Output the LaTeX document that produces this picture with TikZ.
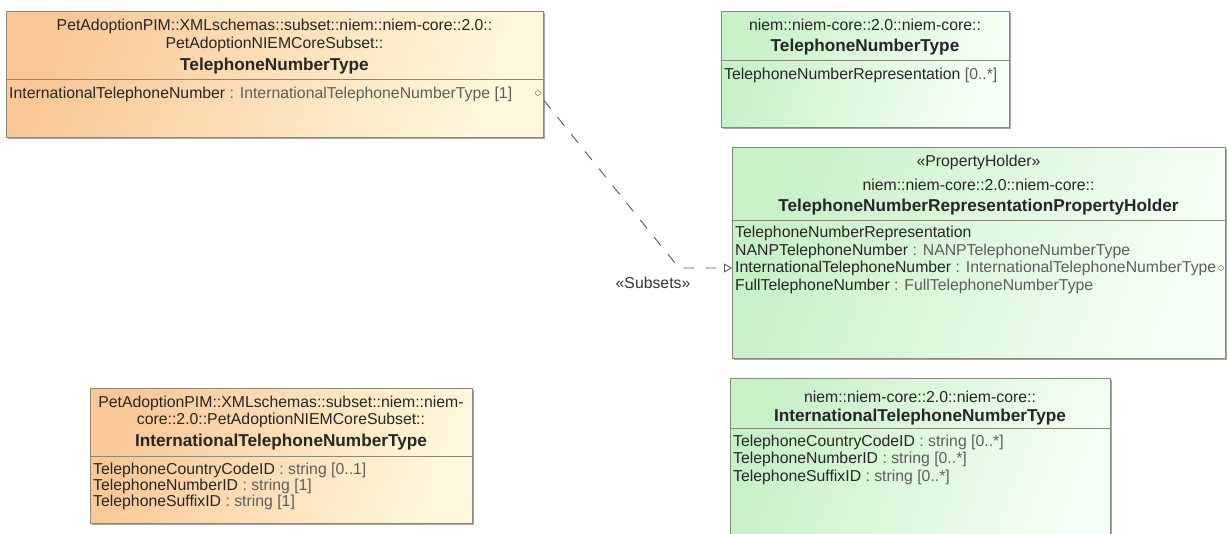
\documentclass[tikz,border=0pt]{standalone}
\usepackage{fontspec}
\setmainfont{Liberation Sans}
\usetikzlibrary{arrows.meta,positioning,shadows}
\definecolor{pimorange}{HTML}{F9C896}
\definecolor{pimcream}{HTML}{FFF8DC}
\definecolor{niemgreen}{HTML}{C8F1C8}
\definecolor{niemwhite}{HTML}{F6FFF6}
\definecolor{boxline}{HTML}{8A8A7A}
\definecolor{typegray}{HTML}{5E5E5E}
\newcommand{\ty}[1]{\textcolor{typegray}{#1}}

\begin{document}
\begin{tikzpicture}[x=1pt,y=-1pt,>=Latex,
    font=\fontsize{15.8}{18}\selectfont,
    cls/.style={draw=boxline,line width=0.8pt,anchor=north west,inner sep=0pt,
      drop shadow={shadow xshift=2pt,shadow yshift=-2pt,fill=black!35,opacity=1}},
    pim/.style={cls,left color=pimorange,right color=pimcream,shading angle=70},
    niem/.style={cls,left color=niemgreen,right color=niemwhite,shading angle=70},
    hdr/.style={inner sep=0pt,text=black!85},
    ttl/.style={hdr,font=\fontsize{17.2}{20}\selectfont\bfseries},
    attr/.style={anchor=west,inner xsep=3pt,inner ysep=0pt,text=black!85},
    portmark/.style={circle,draw=typegray,inner sep=0pt,minimum size=5pt},
    subsets/.style={draw=black!65,line width=0.9pt,dash pattern=on 11pt off 11pt,
      -{Triangle[open,length=8pt,width=9pt]}}]
  \useasboundingbox (0,0) rectangle (1228,533);

  % PetAdoption subset: TelephoneNumberType
  \node[pim,minimum width=537pt,minimum height=126pt] (pimTel) at (6,11) {};
  \node[hdr] (pimTelPkg) at (274.5,26) {PetAdoptionPIM::XMLschemas::subset::niem::niem-core::2.0::};
  \node[hdr] (pimTelSub) at (274.5,44) {PetAdoptionNIEMCoreSubset::};
  \node[ttl] (pimTelName) at (274.5,66) {TelephoneNumberType};
  \draw[boxline,line width=0.8pt] (6,79) -- (543,79);
  \node[attr] (pimTelAttr) at (6,94) {InternationalTelephoneNumber \ty{: InternationalTelephoneNumberType [1]}};
  \node[portmark] (pimEnd) at (538,93) {};

  % PetAdoption subset: InternationalTelephoneNumberType
  \node[pim,minimum width=382pt,minimum height=135pt] (pimIntl) at (90,388) {};
  \node[hdr] (pimIntlPkg) at (281,403) {PetAdoptionPIM::XMLschemas::subset::niem::niem-};
  \node[hdr] (pimIntlSub) at (281,420) {core::2.0::PetAdoptionNIEMCoreSubset::};
  \node[ttl] (pimIntlName) at (281,442) {InternationalTelephoneNumberType};
  \draw[boxline,line width=0.8pt] (90,456) -- (472,456);
  \node[attr] (pimIntlA1) at (90,470) {TelephoneCountryCodeID \ty{: string [0..1]}};
  \node[attr] (pimIntlA2) at (90,486) {TelephoneNumberID \ty{: string [1]}};
  \node[attr] (pimIntlA3) at (90,502) {TelephoneSuffixID \ty{: string [1]}};

  % niem-core: TelephoneNumberType
  \node[niem,minimum width=288pt,minimum height=116pt] (niemTel) at (721,11) {};
  \node[hdr] (niemTelPkg) at (865,25) {niem::niem-core::2.0::niem-core::};
  \node[ttl] (niemTelName) at (865,47) {TelephoneNumberType};
  \draw[boxline,line width=0.8pt] (721,60) -- (1009,60);
  \node[attr] (niemTelAttr) at (721,75) {TelephoneNumberRepresentation \ty{[0..*]}};

  % niem-core: property holder
  \node[niem,minimum width=493pt,minimum height=211pt] (holder) at (732,147) {};
  \node[hdr] (holderSt) at (978.5,162) {«PropertyHolder»};
  \node[hdr] (holderPkg) at (978.5,185) {niem::niem-core::2.0::niem-core::};
  \node[ttl] (holderName) at (978.5,207) {TelephoneNumberRepresentationPropertyHolder};
  \draw[boxline,line width=0.8pt] (732,220) -- (1225,220);
  \node[attr] (reprAttr) at (732,233) {TelephoneNumberRepresentation};
  \node[attr] (nanpAttr) at (732,251) {NANPTelephoneNumber \ty{: NANPTelephoneNumberType}};
  \node[attr] (intlAttr) at (732,268) {InternationalTelephoneNumber \ty{: InternationalTelephoneNumberType}};
  \node[attr] (fullAttr) at (732,286) {FullTelephoneNumber \ty{: FullTelephoneNumberType}};
  \node[portmark] (holderEnd) at (1221,268) {};

  % niem-core: InternationalTelephoneNumberType
  \node[niem,minimum width=380pt,minimum height=180pt] (niemIntl) at (730,378) {};
  \node[hdr] (niemIntlPkg) at (920,397) {niem::niem-core::2.0::niem-core::};
  \node[ttl] (niemIntlName) at (920,417) {InternationalTelephoneNumberType};
  \draw[boxline,line width=0.8pt] (730,428) -- (1110,428);
  \node[attr] (niemIntlA1) at (730,442) {TelephoneCountryCodeID \ty{: string [0..*]}};
  \node[attr] (niemIntlA2) at (730,459.5) {TelephoneNumberID \ty{: string [0..*]}};
  \node[attr] (niemIntlA3) at (730,477) {TelephoneSuffixID \ty{: string [0..*]}};

  % subsets dependency
  \coordinate (bend) at (679,268);
  \draw[subsets,shorten <=9pt] (pimEnd.center) -- (bend) -- (intlAttr.west);
  \node[text=black!80] (subsetsLbl) at (653,283) {«Subsets»};
\end{tikzpicture}
\end{document}
